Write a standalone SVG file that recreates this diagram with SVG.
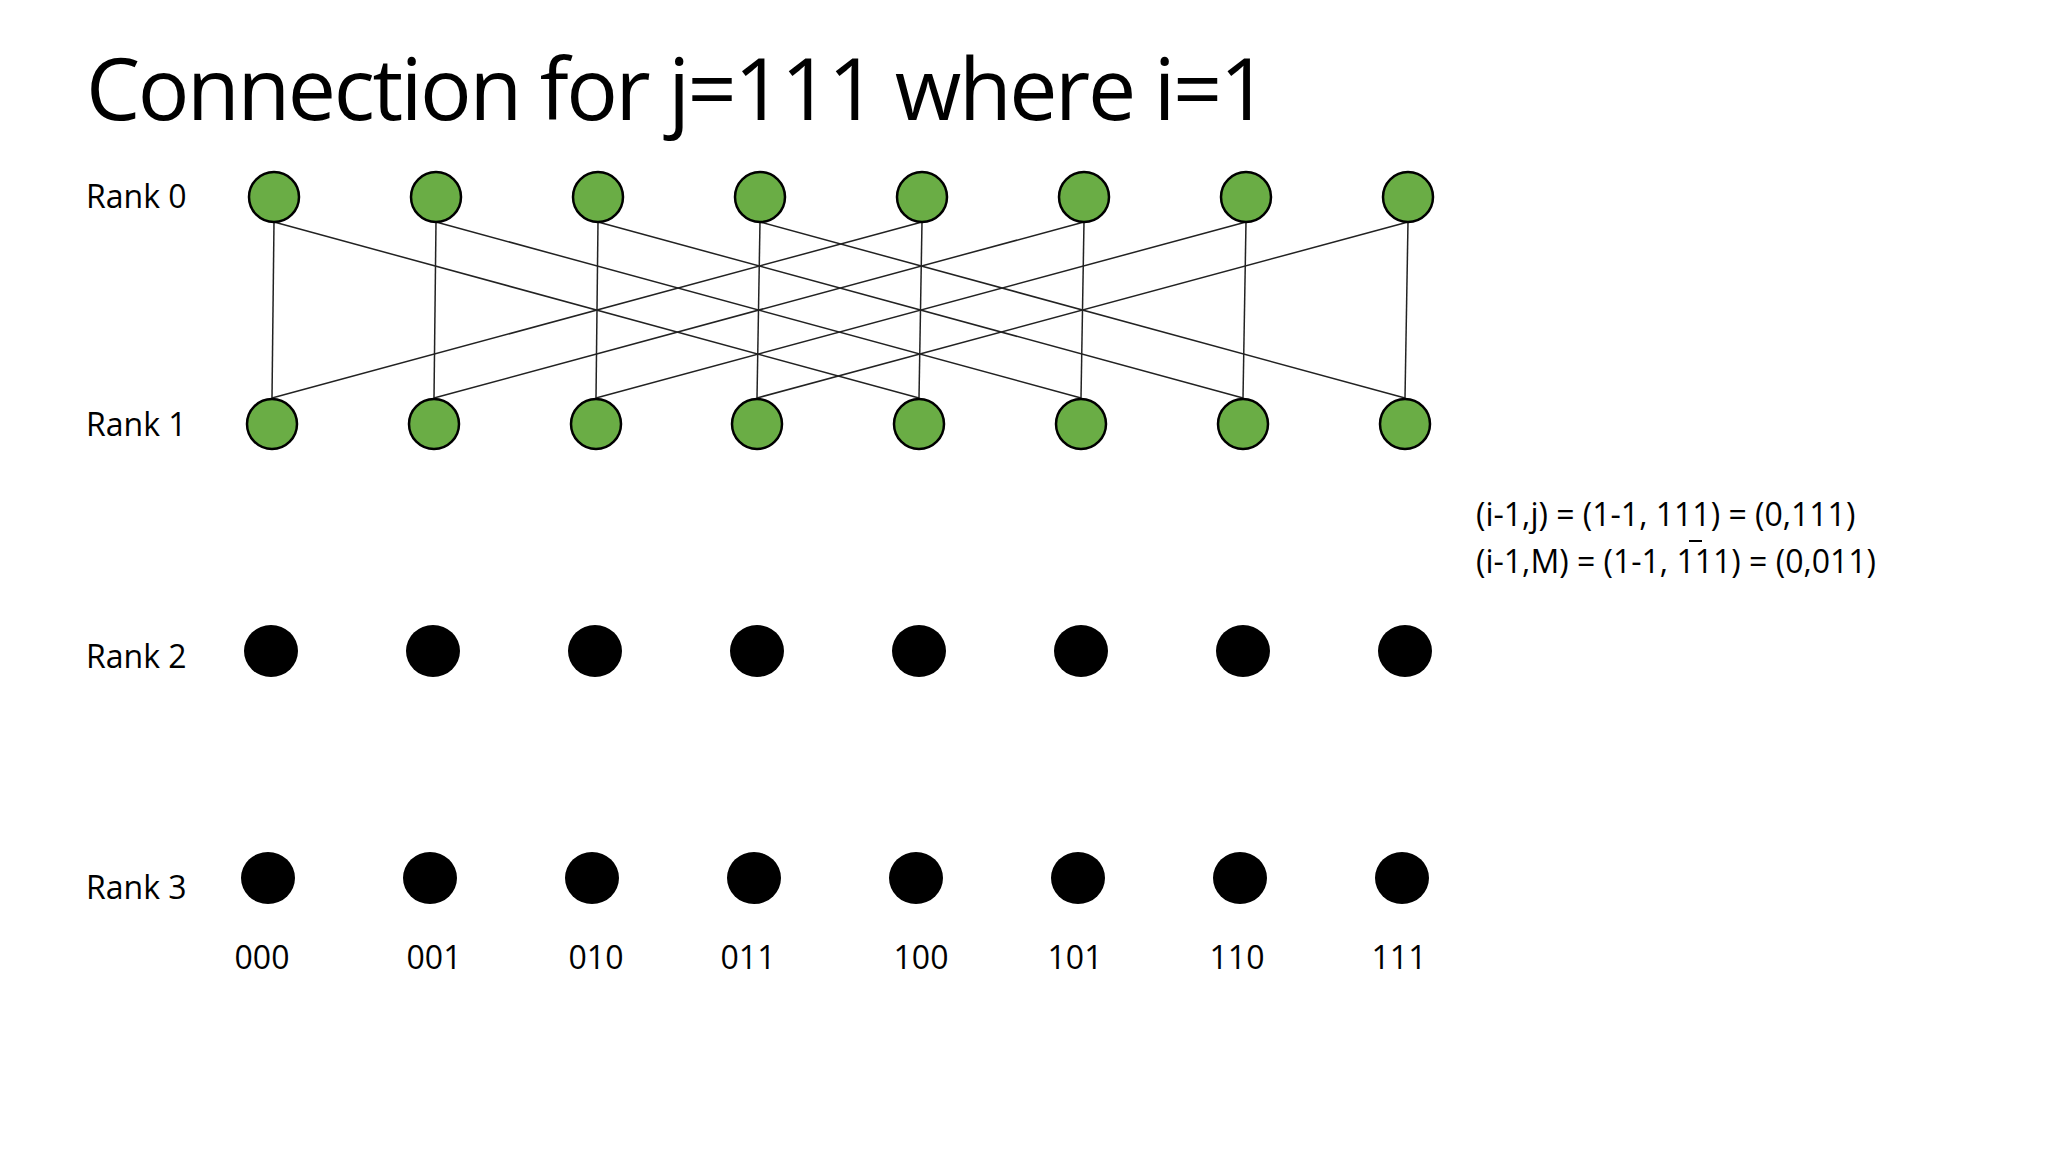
<svg xmlns="http://www.w3.org/2000/svg" width="2048" height="1152" viewBox="0 0 2048 1152">
<style>
text{font-family:"Open Sans","Liberation Sans",sans-serif;fill:#000}
.g{fill:#6aad45;stroke:#000;stroke-width:2.5}
.b{fill:#000}
.c line{stroke:#222;stroke-width:1.5}
.l{font-size:32px}
</style>
<rect width="2048" height="1152" fill="#fff"/>
<text x="86" y="120" font-size="86" textLength="1183" font-family="Liberation Sans, sans-serif">Connection for j=111 where i=1</text>
<g id="labels" class="l">
<text x="86" y="208">Rank 0</text>
<text x="86" y="436">Rank 1</text>
<text x="86" y="668">Rank 2</text>
<text x="86" y="899">Rank 3</text>
</g>
<g id="connectors" class="c">
<line x1="274" y1="222" x2="272" y2="398"/><line x1="436" y1="222" x2="434" y2="398"/><line x1="598" y1="222" x2="596" y2="398"/><line x1="760" y1="222" x2="757" y2="398"/><line x1="922" y1="222" x2="919" y2="398"/><line x1="1084" y1="222" x2="1081" y2="398"/><line x1="1246" y1="222" x2="1243" y2="398"/><line x1="1408" y1="222" x2="1405" y2="398"/>
<line x1="274" y1="222" x2="919" y2="398"/><line x1="436" y1="222" x2="1081" y2="398"/><line x1="598" y1="222" x2="1243" y2="398"/><line x1="760" y1="222" x2="1405" y2="398"/>
<line x1="922" y1="222" x2="272" y2="398"/><line x1="1084" y1="222" x2="434" y2="398"/><line x1="1246" y1="222" x2="596" y2="398"/><line x1="1408" y1="222" x2="757" y2="398"/>
</g>
<g id="r0"><ellipse class="g" cx="274" cy="197" rx="25" ry="25"/><ellipse class="g" cx="436" cy="197" rx="25" ry="25"/><ellipse class="g" cx="598" cy="197" rx="25" ry="25"/><ellipse class="g" cx="760" cy="197" rx="25" ry="25"/><ellipse class="g" cx="922" cy="197" rx="25" ry="25"/><ellipse class="g" cx="1084" cy="197" rx="25" ry="25"/><ellipse class="g" cx="1246" cy="197" rx="25" ry="25"/><ellipse class="g" cx="1408" cy="197" rx="25" ry="25"/></g>
<g id="r1"><ellipse class="g" cx="272" cy="424" rx="25" ry="25"/><ellipse class="g" cx="434" cy="424" rx="25" ry="25"/><ellipse class="g" cx="596" cy="424" rx="25" ry="25"/><ellipse class="g" cx="757" cy="424" rx="25" ry="25"/><ellipse class="g" cx="919" cy="424" rx="25" ry="25"/><ellipse class="g" cx="1081" cy="424" rx="25" ry="25"/><ellipse class="g" cx="1243" cy="424" rx="25" ry="25"/><ellipse class="g" cx="1405" cy="424" rx="25" ry="25"/></g>
<g id="r2"><ellipse class="b" cx="271" cy="651" rx="27" ry="26"/><ellipse class="b" cx="433" cy="651" rx="27" ry="26"/><ellipse class="b" cx="595" cy="651" rx="27" ry="26"/><ellipse class="b" cx="757" cy="651" rx="27" ry="26"/><ellipse class="b" cx="919" cy="651" rx="27" ry="26"/><ellipse class="b" cx="1081" cy="651" rx="27" ry="26"/><ellipse class="b" cx="1243" cy="651" rx="27" ry="26"/><ellipse class="b" cx="1405" cy="651" rx="27" ry="26"/></g>
<g id="r3"><ellipse class="b" cx="268" cy="878" rx="27" ry="26"/><ellipse class="b" cx="430" cy="878" rx="27" ry="26"/><ellipse class="b" cx="592" cy="878" rx="27" ry="26"/><ellipse class="b" cx="754" cy="878" rx="27" ry="26"/><ellipse class="b" cx="916" cy="878" rx="27" ry="26"/><ellipse class="b" cx="1078" cy="878" rx="27" ry="26"/><ellipse class="b" cx="1240" cy="878" rx="27" ry="26"/><ellipse class="b" cx="1402" cy="878" rx="27" ry="26"/></g>
<g id="bits" class="l" text-anchor="middle">
<text x="262" y="969">000</text><text x="434" y="969">001</text><text x="596" y="969">010</text><text x="748" y="969">011</text><text x="921" y="969">100</text><text x="1075" y="969">101</text><text x="1237" y="969">110</text><text x="1399" y="969">111</text>
</g>
<g id="formula" class="l">
<text x="1476" y="526">(i-1,j) = (1-1, 111) = (0,111)</text>
<text x="1476" y="573">(i-1,M) = (1-1, 111) = (0,011)</text>
<line x1="1689" y1="541" x2="1702" y2="541" stroke="#000" stroke-width="2"/>
</g>
</svg>
